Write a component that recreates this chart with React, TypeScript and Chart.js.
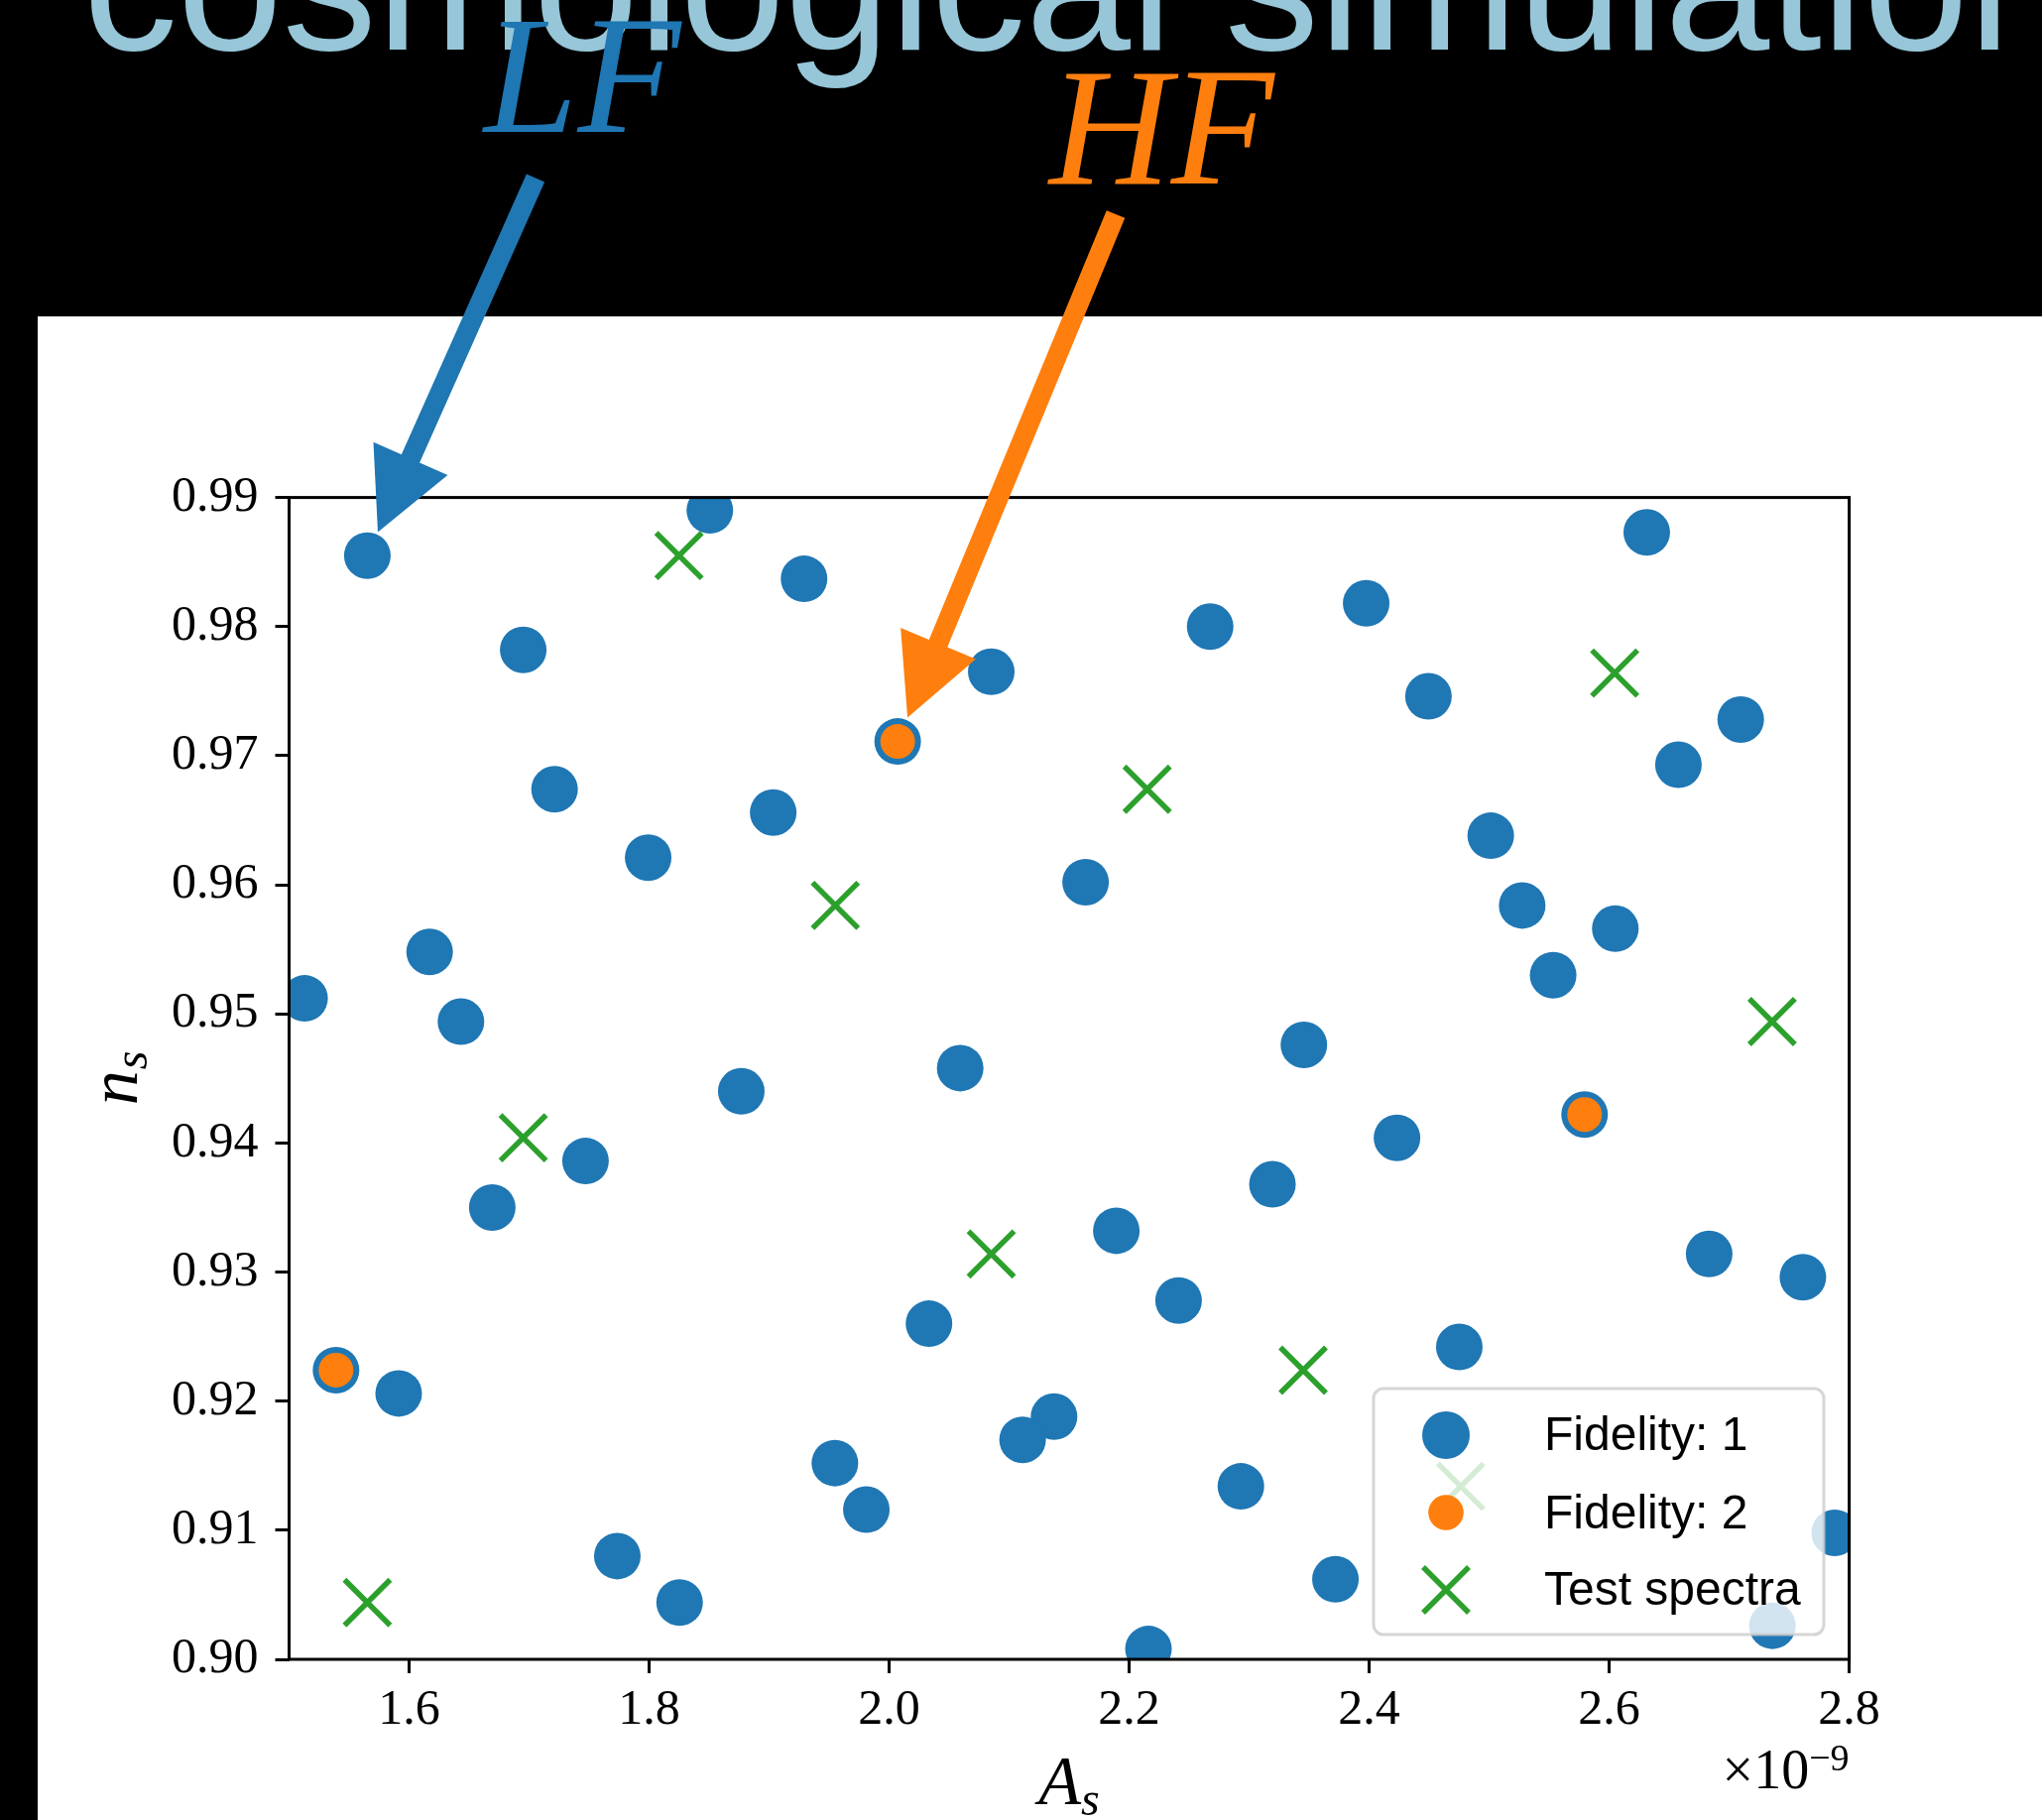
import React, { useEffect, useRef } from 'react';
import { Chart, registerables } from 'chart.js';

Chart.register(...registerables);

// ---------- data ----------
// A_s in units of 1e-9, n_s
const lfX = [
  1.5652, 1.8506, 1.9291, 1.6951, 2.0851, 2.2675, 2.3975, 2.6313, 2.4494, 2.7096,
  2.6577, 1.7212, 1.9034, 1.7992, 2.1637, 2.5013, 2.5275, 2.6051, 2.5533, 1.6171,
  1.5129, 1.6432, 2.3456, 2.0592, 1.8768, 2.4232, 1.747, 1.6693, 2.3194, 2.1893,
  2.6833, 2.7614, 2.2412, 2.0332, 2.4751, 1.5913, 2.1374, 2.1112, 1.9548, 1.981,
  2.2931, 2.7879, 1.7735, 1.8254, 2.3719, 2.2161, 2.736, 2.0071, 1.5391, 2.5795,
];
const lfY = [
  0.9855, 0.989, 0.9837, 0.9782, 0.9765, 0.98, 0.9818, 0.9873, 0.9746, 0.9728,
  0.9693, 0.9674, 0.9656, 0.9621, 0.9602, 0.9638, 0.9584, 0.9566, 0.953, 0.9548,
  0.9512, 0.9494, 0.9476, 0.9458, 0.944, 0.9404, 0.9386, 0.935, 0.9368, 0.9332,
  0.9314, 0.9296, 0.9278, 0.926, 0.9242, 0.9206, 0.9188, 0.917, 0.9152, 0.9116,
  0.9134, 0.9098, 0.908, 0.9044, 0.9062, 0.9008, 0.9026, 0.9711, 0.9224, 0.9422,
];
const hfX = [2.0071, 1.5391, 2.5795];
const hfY = [0.9711, 0.9224, 0.9422];
const testX = [1.8249, 2.6046, 2.215, 1.9552, 2.7358, 1.6951, 2.0851, 2.345, 2.4763, 1.5652];
const testY = [0.9855, 0.9764, 0.9674, 0.9584, 0.9494, 0.9404, 0.9314, 0.9224, 0.9134, 0.9044];

const xTicks = [1.6, 1.8, 2.0, 2.2, 2.4, 2.6, 2.8];
const yTicks = [0.9, 0.91, 0.92, 0.93, 0.94, 0.95, 0.96, 0.97, 0.98, 0.99];
const xRange = [1.5, 2.8];
const yRange = [0.9, 0.99];

const seriesLabels = ['Fidelity: 1', 'Fidelity: 2', 'Test spectra'];
const titleText = 'cosmological simulation';
const lfLabel = 'LF';
const hfLabel = 'HF';
const lfTarget = 0; // index into lf arrays
const hfTarget = 0; // index into hf arrays

// ---------- styling ----------
const W = 2059;
const H = 1835;
const BLUE = '#1f77b4';
const ORANGE = '#ff7f0e';
const GREEN = '#2ca02c';
const TITLE = '#96c6d8';
const SERIF = '"Liberation Serif", "DejaVu Serif", serif';
const SANS = '"Liberation Sans", Arial, sans-serif';

function drawArrow(ctx: CanvasRenderingContext2D, tx: number, ty: number, px: number, py: number, color: string) {
  const shaftW = 20, headW = 82, headL = 81, shrink = 26;
  const dx = px - tx, dy = py - ty;
  const len = Math.hypot(dx, dy);
  const ux = dx / len, uy = dy / len;
  const nx = -uy, ny = ux;
  const tipX = px - ux * shrink, tipY = py - uy * shrink;
  const bx = tipX - ux * headL, by = tipY - uy * headL;
  ctx.save();
  ctx.fillStyle = color;
  ctx.beginPath();
  ctx.moveTo(tx + nx * shaftW / 2, ty + ny * shaftW / 2);
  ctx.lineTo(bx + nx * shaftW / 2, by + ny * shaftW / 2);
  ctx.lineTo(bx + nx * headW / 2, by + ny * headW / 2);
  ctx.lineTo(tipX, tipY);
  ctx.lineTo(bx - nx * headW / 2, by - ny * headW / 2);
  ctx.lineTo(bx - nx * shaftW / 2, by - ny * shaftW / 2);
  ctx.lineTo(tx - nx * shaftW / 2, ty - ny * shaftW / 2);
  ctx.closePath();
  ctx.fill();
  ctx.restore();
}

function drawX(ctx: CanvasRenderingContext2D, x: number, y: number, h: number, color: string, lw: number) {
  ctx.save();
  ctx.strokeStyle = color;
  ctx.lineWidth = lw;
  ctx.beginPath();
  ctx.moveTo(x - h, y - h);
  ctx.lineTo(x + h, y + h);
  ctx.moveTo(x - h, y + h);
  ctx.lineTo(x + h, y - h);
  ctx.stroke();
  ctx.restore();
}

const backgroundPlugin = {
  id: 'bgPanel',
  beforeDraw(chart: any) {
    const ctx = chart.ctx as CanvasRenderingContext2D;
    ctx.save();
    ctx.fillStyle = '#000';
    ctx.fillRect(0, 0, W, H);
    ctx.fillStyle = '#fff';
    ctx.fillRect(38, 319, W - 38, H - 319);
    ctx.font = `190px ${SANS}`;
    ctx.fillStyle = TITLE;
    ctx.textBaseline = 'alphabetic';
    ctx.textAlign = 'left';
    ctx.fillText(titleText, 84, 50);
    ctx.restore();
  },
};

const framePlugin = {
  id: 'frameLegend',
  afterDatasetsDraw(chart: any) {
    const ctx = chart.ctx as CanvasRenderingContext2D;
    const ca = chart.chartArea;
    ctx.save();
    // spines
    ctx.strokeStyle = '#000';
    ctx.lineWidth = 3;
    ctx.strokeRect(ca.left, ca.top, ca.right - ca.left, ca.bottom - ca.top);
    // legend
    const lw = 454, lh = 248;
    const lx = ca.right - 25.6 - lw;
    const ly = ca.bottom - 25 - lh;
    ctx.beginPath();
    (ctx as any).roundRect(lx, ly, lw, lh, 10);
    ctx.fillStyle = 'rgba(255,255,255,0.8)';
    ctx.fill();
    ctx.strokeStyle = 'rgba(204,204,204,0.8)';
    ctx.lineWidth = 3;
    ctx.stroke();
    const mx = lx + 73;
    ctx.fillStyle = BLUE;
    ctx.beginPath();
    ctx.arc(mx, ly + 47, 24, 0, Math.PI * 2);
    ctx.fill();
    ctx.fillStyle = ORANGE;
    ctx.beginPath();
    ctx.arc(mx, ly + 125, 17.8, 0, Math.PI * 2);
    ctx.fill();
    drawX(ctx, mx, ly + 203, 23, GREEN, 5.5);
    ctx.fillStyle = '#000';
    ctx.font = `48px ${SANS}`;
    ctx.textAlign = 'left';
    ctx.textBaseline = 'alphabetic';
    const baselines = [62, 141, 218];
    seriesLabels.forEach((t, i) => ctx.fillText(t, lx + 172, ly + baselines[i]));
    ctx.restore();
  },
  afterDraw(chart: any) {
    const ctx = chart.ctx as CanvasRenderingContext2D;
    const ca = chart.chartArea;
    const xs = chart.scales.x;
    const ys = chart.scales.y;
    ctx.save();
    ctx.fillStyle = '#000';
    ctx.textAlign = 'left';
    ctx.textBaseline = 'alphabetic';
    // y label n_s
    const cy = (ca.top + ca.bottom) / 2;
    ctx.save();
    ctx.translate(ca.left - 153.5, cy);
    ctx.rotate(-Math.PI / 2);
    ctx.font = `italic 70px ${SERIF}`;
    const wn = ctx.measureText('n').width;
    ctx.font = `italic 48px ${SERIF}`;
    const ws = ctx.measureText('s').width;
    const st = -(wn + ws) / 2;
    ctx.font = `italic 70px ${SERIF}`;
    ctx.fillText('n', st, 0);
    ctx.font = `italic 48px ${SERIF}`;
    ctx.fillText('s', st + wn + 1, 10);
    ctx.restore();
    // x label A_s
    const cx = (ca.left + ca.right) / 2;
    ctx.font = `italic 70px ${SERIF}`;
    const wa = ctx.measureText('A').width;
    ctx.font = `italic 48px ${SERIF}`;
    const ws2 = ctx.measureText('s').width;
    const sx = cx - (wa + ws2) / 2;
    ctx.font = `italic 70px ${SERIF}`;
    ctx.fillText('A', sx, ca.bottom + 146);
    ctx.font = `italic 48px ${SERIF}`;
    ctx.fillText('s', sx + wa, ca.bottom + 157);
    // offset text x10^-9
    ctx.font = `56px ${SERIF}`;
    const w1 = ctx.measureText('×10').width;
    ctx.font = `38px ${SERIF}`;
    const w2 = ctx.measureText('−9').width;
    const ox = ca.right - w1 - w2;
    ctx.font = `56px ${SERIF}`;
    ctx.fillText('×10', ox, ca.bottom + 130);
    ctx.font = `38px ${SERIF}`;
    ctx.fillText('−9', ox + w1, ca.bottom + 112);
    // annotations
    ctx.font = `italic 170px ${SERIF}`;
    ctx.fillStyle = BLUE;
    ctx.fillText(lfLabel, 488, 133);
    ctx.fillStyle = ORANGE;
    ctx.fillText(hfLabel, 1058, 185);
    drawArrow(ctx, 540, 179.5, xs.getPixelForValue(lfX[lfTarget]), ys.getPixelForValue(lfY[lfTarget]), BLUE);
    drawArrow(ctx, 1125, 216, xs.getPixelForValue(hfX[hfTarget]), ys.getPixelForValue(hfY[hfTarget]), ORANGE);
    ctx.restore();
  },
};

export default function App() {
  const ref = useRef<HTMLCanvasElement | null>(null);
  useEffect(() => {
    const canvas = ref.current;
    if (!canvas) return;
    const tickGrid = {
      display: true,
      drawOnChartArea: false,
      drawTicks: true,
      tickLength: 14,
      tickWidth: 3,
      tickColor: '#000',
      color: '#000',
    };
    const chart = new Chart(canvas, {
      type: 'scatter',
      data: {
        datasets: [
          {
            label: seriesLabels[0],
            data: lfX.map((x, i) => ({ x, y: lfY[i] })),
            backgroundColor: BLUE,
            borderColor: BLUE,
            pointRadius: 23.5,
            pointHoverRadius: 23.5,
            pointBorderWidth: 0,
            order: 3,
            clip: 0,
          },
          {
            label: seriesLabels[1],
            data: hfX.map((x, i) => ({ x, y: hfY[i] })),
            backgroundColor: ORANGE,
            borderColor: ORANGE,
            pointRadius: 17.5,
            pointHoverRadius: 17.5,
            pointBorderWidth: 0,
            order: 2,
            clip: 0,
          },
          {
            label: seriesLabels[2],
            data: testX.map((x, i) => ({ x, y: testY[i] })),
            backgroundColor: 'rgba(0,0,0,0)',
            borderColor: GREEN,
            pointStyle: 'crossRot',
            pointRadius: 32.5,
            pointHoverRadius: 32.5,
            pointBorderWidth: 5.5,
            order: 1,
            clip: 0,
          },
        ],
      } as any,
      options: {
        animation: false,
        responsive: false,
        devicePixelRatio: 1,
        events: [],
        layout: { padding: { left: 0, top: 501.6, right: 194.4, bottom: 0 } },
        plugins: { legend: { display: false }, tooltip: { enabled: false }, title: { display: false } },
        scales: {
          x: {
            type: 'linear',
            min: xRange[0],
            max: xRange[1],
            afterBuildTicks: (s: any) => { s.ticks = xTicks.map((v) => ({ value: v })); },
            afterFit: (s: any) => { s.height = 162; },
            ticks: {
              color: '#000',
              font: { family: SERIF, size: 50 },
              padding: 8,
              maxRotation: 0,
              autoSkip: false,
              callback: (v: any) => Number(v).toFixed(1),
            },
            grid: tickGrid,
            border: { display: false },
          },
          y: {
            type: 'linear',
            min: yRange[0],
            max: yRange[1],
            afterBuildTicks: (s: any) => { s.ticks = yTicks.map((v) => ({ value: v })); },
            afterFit: (s: any) => { s.width = 291.5; },
            ticks: {
              color: '#000',
              font: { family: SERIF, size: 50 },
              padding: 17,
              autoSkip: false,
              callback: (v: any) => Number(v).toFixed(2),
            },
            grid: tickGrid,
            border: { display: false },
          },
        },
      } as any,
      plugins: [backgroundPlugin, framePlugin],
    });
    return () => chart.destroy();
  }, []);
  return (
    <canvas
      ref={ref}
      width={W}
      height={H}
      style={{ position: 'absolute', left: 0, top: 0, width: `${W}px`, height: `${H}px`, display: 'block' }}
    />
  );
}
